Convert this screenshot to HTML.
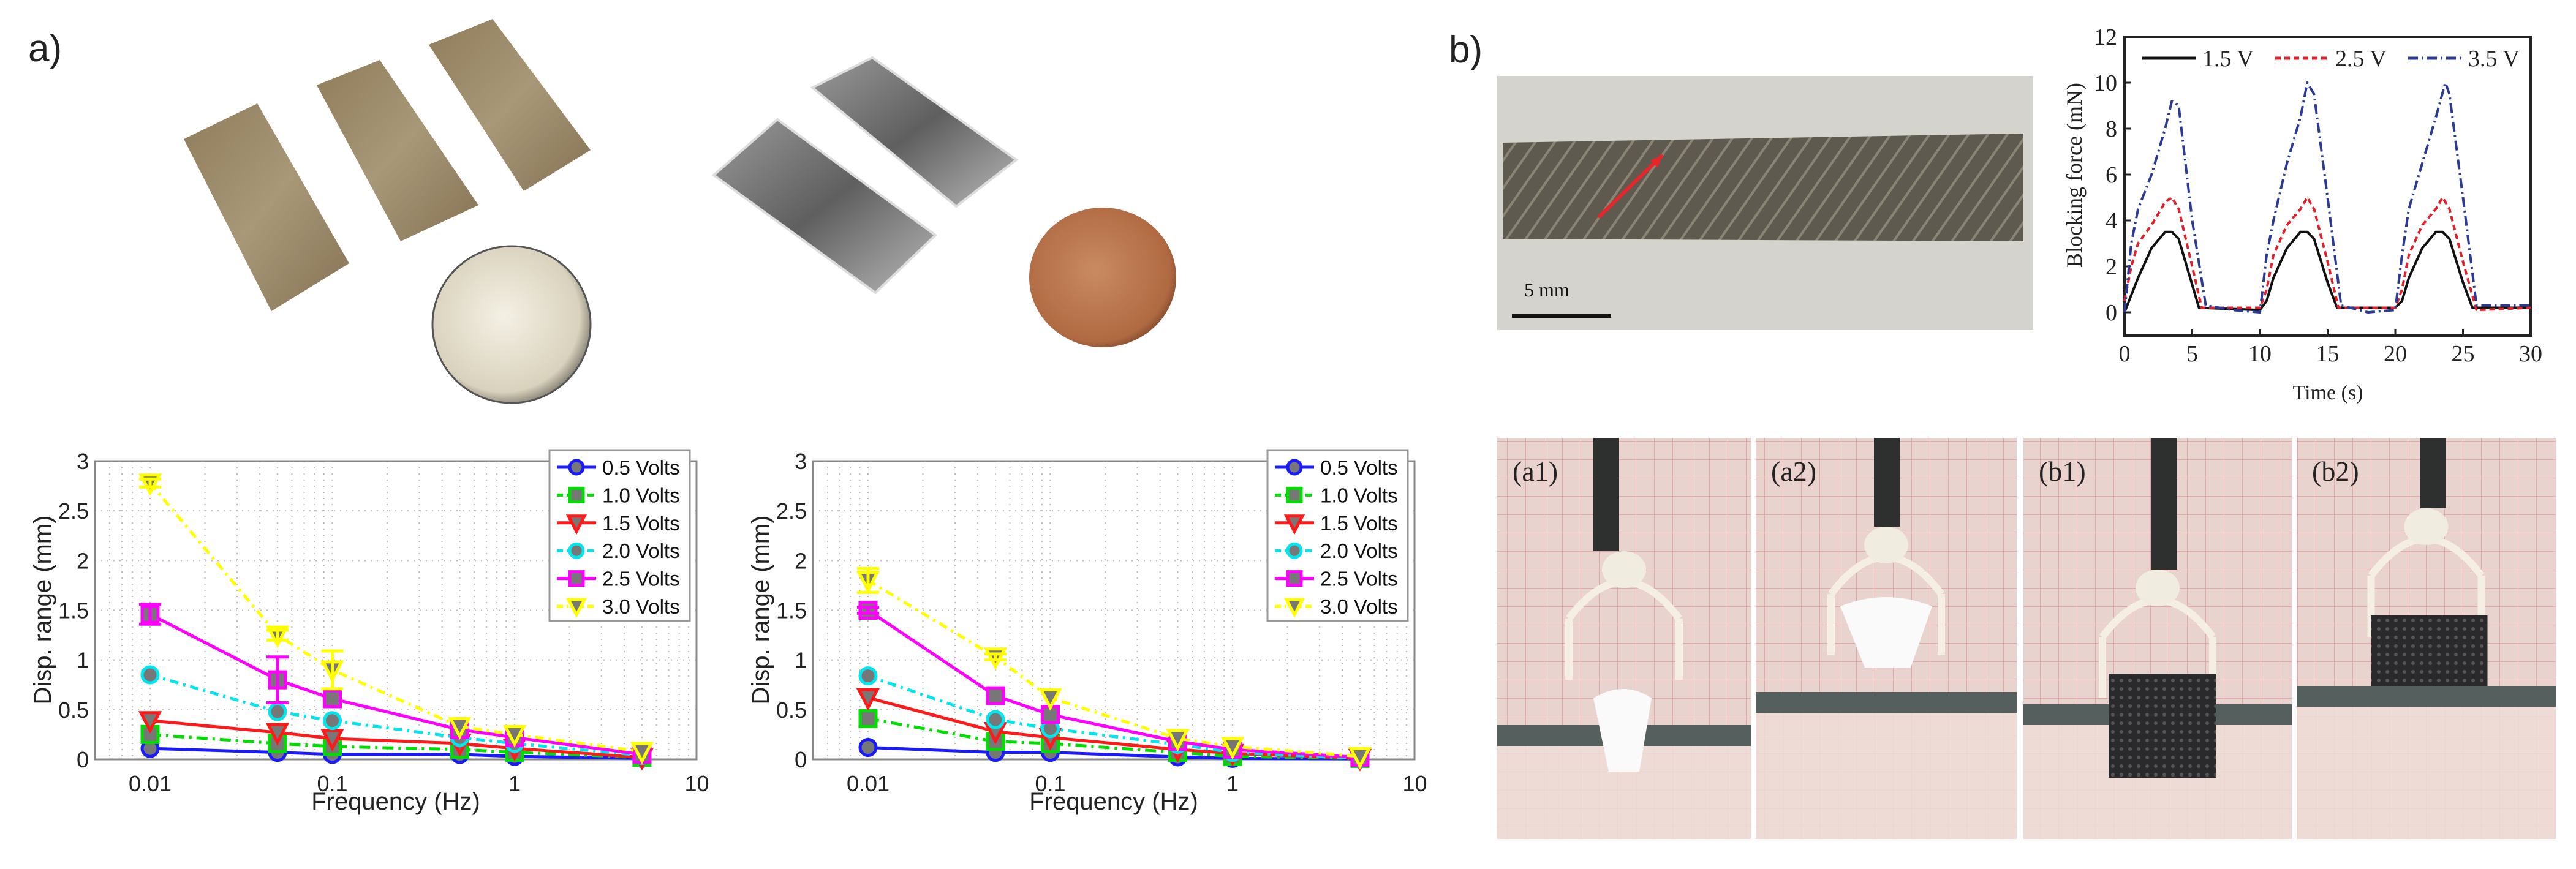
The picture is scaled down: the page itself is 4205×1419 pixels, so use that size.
<!DOCTYPE html>
<html><head><meta charset="utf-8"><style>
html,body{margin:0;padding:0;background:#fff;}
svg{display:block;}
</style></head><body>
<svg id="fig" width="4205" height="1419" viewBox="0 0 4205 1419" xmlns="http://www.w3.org/2000/svg">
<defs>
<linearGradient id="tan" x1="0" y1="0" x2="1" y2="1"><stop offset="0" stop-color="#8f7c5a"/><stop offset="0.5" stop-color="#a89878"/><stop offset="1" stop-color="#857254"/></linearGradient>
<linearGradient id="silver" x1="0" y1="0" x2="1" y2="1"><stop offset="0" stop-color="#9a9a9a"/><stop offset="0.5" stop-color="#5f5f5f"/><stop offset="1" stop-color="#b8b8b8"/></linearGradient>
<radialGradient id="dime" cx="0.45" cy="0.45" r="0.6"><stop offset="0" stop-color="#f4f0e4"/><stop offset="0.8" stop-color="#d9d2bd"/><stop offset="1" stop-color="#6e6a5e"/></radialGradient>
<radialGradient id="penny" cx="0.45" cy="0.45" r="0.6"><stop offset="0" stop-color="#c98a62"/><stop offset="0.85" stop-color="#b06a42"/><stop offset="1" stop-color="#7a4428"/></radialGradient>
<pattern id="pinkgrid" width="30" height="30" patternUnits="userSpaceOnUse"><rect width="30" height="30" fill="#e9d3cf"/><path d="M0 0H30M0 0V30" stroke="#e39a9a" stroke-width="1.5"/></pattern>
<pattern id="hatch" width="26" height="26" patternUnits="userSpaceOnUse" patternTransform="rotate(35)"><rect width="26" height="26" fill="#5e5a50"/><line x1="0" y1="0" x2="0" y2="26" stroke="#8a8474" stroke-width="8"/></pattern>
<pattern id="foam" width="14" height="14" patternUnits="userSpaceOnUse"><rect width="14" height="14" fill="#2a2a2c"/><circle cx="5" cy="5" r="3" fill="#555"/></pattern>
</defs>

<text x="46" y="100" font-family="Liberation Sans, sans-serif" font-size="62" fill="#222">a)</text>
<g>
<polygon points="420,169 570,430 443,508 300,227" fill="url(#tan)"/>
<polygon points="620,98 781,335 654,394 517,139" fill="url(#tan)"/>
<polygon points="804,31 964,245 855,312 700,73" fill="url(#tan)"/>
</g>
<ellipse cx="835" cy="530" rx="129" ry="128" fill="url(#dime)" stroke="#555" stroke-width="3"/>
<g>
<polygon points="1269,195 1527,384 1429,478 1165,286" fill="url(#silver)" stroke="#ddd" stroke-width="4"/>
<polygon points="1424,94 1659,261 1561,337 1326,143" fill="url(#silver)" stroke="#ddd" stroke-width="4"/>
</g>
<ellipse cx="1800" cy="453" rx="120" ry="114" fill="url(#penny)"/>

<text x="2365" y="102" font-family="Liberation Sans, sans-serif" font-size="62" fill="#222">b)</text>
<rect x="2444" y="124" width="874" height="415" fill="#d4d3cd"/>
<polygon points="2453,233 3303,218 3303,394 2453,390" fill="url(#hatch)"/>
<line x1="2609" y1="355" x2="2714" y2="253" stroke="#e8262a" stroke-width="6"/>
<polygon points="2714,253 2694,262 2706,274" fill="#e8262a"/>
<text x="2488" y="484" font-family="Liberation Serif, serif" font-size="32" fill="#111">5 mm</text>
<rect x="2468" y="512" width="162" height="7" fill="#111"/>

<g id="grip"></g>

<g id="chartA"></g>
<g id="chartB"></g>
<g id="chartC"></g>
</svg>
<script>
var freqs = [0.01, 0.05, 0.1, 0.5, 1, 5];
var seriesNames = ["0.5 Volts","1.0 Volts","1.5 Volts","2.0 Volts","2.5 Volts","3.0 Volts"];
var leftV05 = [0.11, 0.07, 0.05, 0.05, 0.03, 0.01];
var leftV10 = [0.25, 0.16, 0.13, 0.10, 0.07, 0.02];
var leftV15 = [0.39, 0.27, 0.21, 0.16, 0.11, 0.02];
var leftV20 = [0.85, 0.48, 0.39, 0.22, 0.16, 0.04];
var leftV25 = [1.46, 0.80, 0.61, 0.30, 0.22, 0.05];
var leftV30 = [2.78, 1.25, 0.90, 0.33, 0.25, 0.08];
var leftErr25 = [0.10, 0.23, 0, 0, 0, 0];
var leftErr30 = [0.04, 0.05, 0.19, 0, 0, 0];
var rightV05 = [0.12, 0.07, 0.07, 0.025, 0.01, 0.005];
var rightV10 = [0.41, 0.18, 0.16, 0.07, 0.03, 0.01];
var rightV15 = [0.62, 0.28, 0.22, 0.10, 0.06, 0.01];
var rightV20 = [0.84, 0.40, 0.31, 0.15, 0.07, 0.01];
var rightV25 = [1.50, 0.64, 0.45, 0.18, 0.10, 0.02];
var rightV30 = [1.80, 1.03, 0.62, 0.21, 0.13, 0.03];
var rightErr25 = [0.03, 0, 0, 0, 0, 0];
var rightErr30 = [0.12, 0.03, 0, 0, 0, 0];
var dispYTicks = [0, 0.5, 1, 1.5, 2, 2.5, 3];
var dispYTickLabels = ["0","0.5","1","1.5","2","2.5","3"];
var dispXTicks = [0.01, 0.1, 1, 10];
var dispXTickLabels = ["0.01","0.1","1","10"];

var tBlack = [0,1,2,3,3.5,4,5,5.5,10,10.5,11,12,13,13.5,14,15,15.7,20,20.5,21,22,23,23.5,24,25,25.7,30];
var fBlack = [0,1.5,2.8,3.5,3.5,3.2,1.2,0.2,0.1,0.5,1.5,2.8,3.5,3.5,3.2,1.3,0.2,0.2,0.5,1.5,2.8,3.5,3.5,3.2,1.3,0.2,0.2];
var tRed = [0,0.5,1,2,3,3.5,4,5,5.7,10,10.5,11,12,13,13.5,14,15,15.8,20,20.5,21,22,23,23.5,24,25,26,30];
var fRed = [0.5,2,3,3.8,4.8,5,4.5,2,0.2,0.2,1,2.5,3.8,4.5,5,4.5,2.2,0.2,0.2,1,2.5,3.8,4.5,5,4.5,2.2,0.1,0.2];
var tBlue = [0,0.5,1,2,3,3.5,4,5,6,8,10,10.5,11,12,13,13.5,14,15,16,18,20,20.5,21,22,23,23.7,24,25,26,30];
var fBlue = [0,3,4.5,6,8,9.2,9,4,0.3,0.1,0,2.5,4,6.5,8.5,10,9.5,5,0.3,0,0.1,2.5,4.5,6.5,8.5,10,9.5,5,0.3,0.3];
var forceNames = ["1.5 V","2.5 V","3.5 V"];
var forceYTicks = [0,2,4,6,8,10,12];
var forceXTicks = [0,5,10,15,20,25,30];

var NS = "http://www.w3.org/2000/svg";
function mk(parent, tag, attrs){var e=document.createElementNS(NS,tag);for(var k in attrs)e.setAttribute(k,attrs[k]);parent.appendChild(e);return e;}

var colors = ["#1a1aff","#00dd00","#ff1a1a","#00e5ee","#ff00ff","#ffff00"];
var dashes = ["none","18,8,4,8","none","14,8,4,8","none","14,8,4,8"];
var markers = ["circle","square","tri","circle","square","tri"];

function dispChart(g, x0, left, errs){
  var plotL = x0 - 90, plotR = x0 + 892, top = 753, bot = 1240;
  function X(f){return x0 + 297.5*Math.log10(f/0.01);}
  function Y(v){return bot - v*(bot-top)/3;}
  var bg = mk(g,"rect",{x:plotL,y:top,width:plotR-plotL,height:bot-top,fill:"#fff"});
  
  
  for (var d=-3; d<=0; d++){
    for (var m=1; m<10; m++){
      var f = m*Math.pow(10,d); if (f<0.006||f>10) continue;
      var gl = mk(g,"line",{x1:X(f),x2:X(f),y1:top,y2:bot,stroke:"#bbb","stroke-width":2,"stroke-dasharray":"2,8"});
      
      
    }
  }
  for (var i=0;i<dispYTicks.length;i++){
    var y=Y(dispYTicks[i]);
    var hl = mk(g,"line",{x1:plotL,x2:plotR,y1:y,y2:y,stroke:"#bbb","stroke-width":2,"stroke-dasharray":"2,8"});
    
    
    var t = mk(g,"text",{x:plotL-10,y:y+13,"text-anchor":"end","font-family":"Liberation Sans, sans-serif","font-size":36,fill:"#222"});
    t.textContent = dispYTickLabels[i];
    
    
  }
  for (var i=0;i<dispXTicks.length;i++){
    var t = mk(g,"text",{x:X(dispXTicks[i]),y:1292,"text-anchor":"middle","font-family":"Liberation Sans, sans-serif","font-size":36,fill:"#222"});
    t.textContent = dispXTickLabels[i];
    
    
  }
  var fr = mk(g,"rect",{x:plotL,y:top,width:plotR-plotL,height:bot-top,fill:"none",stroke:"#888","stroke-width":3});
  
  
  var xt = mk(g,"text",{x:x0+401,y:1322,"text-anchor":"middle","font-family":"Liberation Sans, sans-serif","font-size":40,fill:"#222"});
  xt.textContent = "Frequency (Hz)";
  
  
  var yt = mk(g,"text",{x:0,y:0,"text-anchor":"middle","font-family":"Liberation Sans, sans-serif","font-size":40,fill:"#222",transform:"translate("+(x0-162)+",996) rotate(-90)"});
  yt.textContent = "Disp. range (mm)";
  
  
  for (var s=0;s<left.length;s++){
    var vals = left[s];
    var pts = vals.map(function(v,i){return X(freqs[i])+","+Y(v);}).join(" ");
    var pl = mk(g,"polyline",{points:pts,fill:"none",stroke:colors[s],"stroke-width":5,"stroke-dasharray":dashes[s]});
    
    
    for (var i=0;i<vals.length;i++) drawMarker(g, markers[s], X(freqs[i]), Y(vals[i]), colors[s], 13);
  }
  for (var e=0;e<errs.length;e++){
    var sIdx = errs[e][0], ev = errs[e][1], vals = left[sIdx];
    for (var i=0;i<ev.length;i++){ if(!ev[i]) continue;
      var x=X(freqs[i]), y1=Y(vals[i]-ev[i]), y2=Y(vals[i]+ev[i]);
      var eb = mk(g,"path",{d:"M"+x+","+y1+"V"+y2+"M"+(x-18)+","+y1+"H"+(x+18)+"M"+(x-18)+","+y2+"H"+(x+18),stroke:colors[sIdx],"stroke-width":5,fill:"none"});
      
      
    }
  }
  var lx = plotR-240, ly = 735;
  var lb = mk(g,"rect",{x:lx,y:ly,width:229,height:279,fill:"#fff",stroke:"#999","stroke-width":3});
  
  
  for (var s=0;s<seriesNames.length;s++){
    var yy = 763 + s*45.4;
    var ll = mk(g,"line",{x1:lx+12,x2:lx+76,y1:yy,y2:yy,stroke:colors[s],"stroke-width":5,"stroke-dasharray":dashes[s]==="none"?"none":"10,6,3,6"});
    
    
    drawMarker(g, markers[s], lx+44, yy, colors[s], 11);
    var lt = mk(g,"text",{x:lx+86,y:yy+12,"font-family":"Liberation Sans, sans-serif","font-size":33,fill:"#111"});
    lt.textContent = seriesNames[s];
    
    
  }
}
function drawMarker(g, type, x, y, c, r){
  var m;
  if (type==="circle") m = mk(g,"circle",{cx:x,cy:y,r:r,fill:"#777",stroke:c,"stroke-width":5});
  else if (type==="square") m = mk(g,"rect",{x:x-r,y:y-r,width:2*r,height:2*r,fill:"#777",stroke:c,"stroke-width":5});
  else m = mk(g,"polygon",{points:(x-r-2)+","+(y-r)+" "+(x+r+2)+","+(y-r)+" "+x+","+(y+r+3),fill:"#777",stroke:c,"stroke-width":5});
  
  
}
dispChart(document.getElementById("chartA"), 245,
  [leftV05,leftV10,leftV15,leftV20,leftV25,leftV30], [[4,leftErr25],[5,leftErr30]]);
dispChart(document.getElementById("chartB"), 1417,
  [rightV05,rightV10,rightV15,rightV20,rightV25,rightV30], [[4,rightErr25],[5,rightErr30]]);

(function(){
  var g = document.getElementById("chartC");
  var L=3468,R=4131,T=60,B=548;
  function X(t){return L + t*(R-L)/30;}
  function Y(v){return 510 - v*37.5;}
  var fr = mk(g,"rect",{x:L,y:T,width:R-L,height:B-T,fill:"#fff",stroke:"#222","stroke-width":4});
  
  
  for (var i=0;i<forceYTicks.length;i++){
    var y=Y(forceYTicks[i]);
    var tk = mk(g,"line",{x1:L,x2:L+10,y1:y,y2:y,stroke:"#222","stroke-width":3});
    
    
    var t = mk(g,"text",{x:L-12,y:y+13,"text-anchor":"end","font-family":"Liberation Serif, serif","font-size":38,fill:"#222"});
    t.textContent = String(forceYTicks[i]);
    
    
  }
  for (var i=0;i<forceXTicks.length;i++){
    var x=X(forceXTicks[i]);
    var tk = mk(g,"line",{x1:x,x2:x,y1:B,y2:B-10,stroke:"#222","stroke-width":3});
    
    
    var t = mk(g,"text",{x:x,y:590,"text-anchor":"middle","font-family":"Liberation Serif, serif","font-size":38,fill:"#222"});
    t.textContent = String(forceXTicks[i]);
    
    
  }
  var xt = mk(g,"text",{x:3800,y:652,"text-anchor":"middle","font-family":"Liberation Serif, serif","font-size":34,fill:"#222"});
  xt.textContent = "Time (s)";
  
  
  var yt = mk(g,"text",{x:0,y:0,"text-anchor":"middle","font-family":"Liberation Serif, serif","font-size":36,fill:"#222",transform:"translate(3398,286) rotate(-90)"});
  yt.textContent = "Blocking force (mN)";
  
  
  var defs = [[tBlack,fBlack,"#111","none"],[tRed,fRed,"#e0202a","9,6"],[tBlue,fBlue,"#2a3a95","16,6,3,6"]];
  for (var s=0;s<defs.length;s++){
    var ts=defs[s][0], fs=defs[s][1];
    var pts = ts.map(function(t,i){return X(t)+","+Y(fs[i]);}).join(" ");
    var pl = mk(g,"polyline",{points:pts,fill:"none",stroke:defs[s][2],"stroke-width":4,"stroke-dasharray":defs[s][3],"stroke-linejoin":"round"});
    
    
    var lx = [3497,3714,3931][s];
    var ll = mk(g,"line",{x1:lx,x2:lx+87,y1:95,y2:95,stroke:defs[s][2],"stroke-width":5,"stroke-dasharray":defs[s][3]});
    
    
    var lt = mk(g,"text",{x:lx+98,y:108,"font-family":"Liberation Serif, serif","font-size":38,fill:"#222"});
    lt.textContent = forceNames[s];
    
    
  }
})();

(function(){
  var g = document.getElementById("grip");
  var panels = [[2444,2858,"(a1)"],[2866,3292,"(a2)"],[3303,3741,"(b1)"],[3749,4172,"(b2)"]];
  var T=715,B=1370;
  for (var i=0;i<panels.length;i++){
    var x0=panels[i][0], x1=panels[i][1], w=x1-x0, cx=(x0+x1)/2;
    var r = mk(g,"rect",{x:x0,y:T,width:w,height:B-T,fill:"url(#pinkgrid)"});
    
    
    var floorY = [1184,1130,1150,1120][i];
    var band = mk(g,"rect",{x:x0,y:floorY,width:w,height:34,fill:"#55605e"});
    
    
    var fl = mk(g,"rect",{x:x0,y:floorY+34,width:w,height:B-floorY-34,fill:"#efdcd6",opacity:0.85});
    
    
    var hy = [930,890,960,860][i];
    var arm = mk(g,"rect",{x:cx-20+[-30,0,10,10][i],y:T,width:42,height:hy-T-30,fill:"#2e3030"});
    
    
    var claw = mk(g,"path",{d:"M"+(cx-90)+","+(hy+80)+" Q"+cx+","+(hy-40)+" "+(cx+90)+","+(hy+80)+" M"+(cx-90)+","+(hy+80)+" V"+(hy+180)+" M"+(cx+90)+","+(hy+80)+" V"+(hy+180),stroke:"#f4efe2","stroke-width":12,fill:"none"});
    
    
    var hub = mk(g,"ellipse",{cx:cx,cy:hy,rx:36,ry:30,fill:"#f1ece0"});
    
    
    var obj;
    if (i===0) obj = mk(g,"path",{d:"M"+(cx-50)+",1140 Q"+cx+",1110 "+(cx+45)+",1140 L"+(cx+25)+",1260 L"+(cx-25)+",1260 Z",fill:"#fafafa"});
    else if (i===1) obj = mk(g,"path",{d:"M"+(cx-75)+",990 Q"+cx+",960 "+(cx+75)+",990 L"+(cx+40)+",1090 L"+(cx-35)+",1090 Z",fill:"#fafafa"});
    else if (i===2) obj = mk(g,"rect",{x:cx-80,y:1100,width:175,height:170,fill:"url(#foam)"});
    else obj = mk(g,"rect",{x:cx-90,y:1005,width:190,height:115,fill:"url(#foam)"});
    
    
    var lt = mk(g,"text",{x:x0+25,y:785,"font-family":"Liberation Serif, serif","font-size":46,fill:"#222"});
    lt.textContent = panels[i][2];
    
    
  }
})();
</script>
</body></html>
